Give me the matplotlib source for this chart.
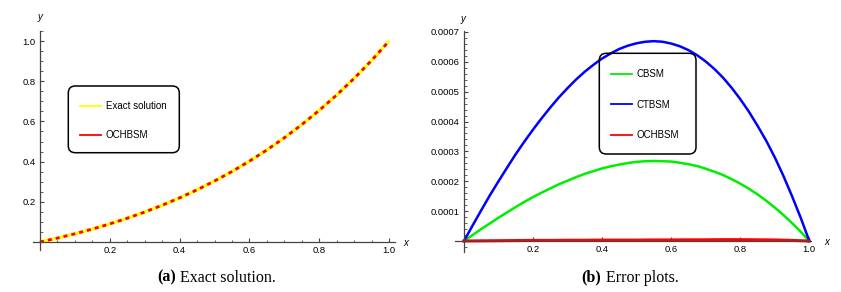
import matplotlib
matplotlib.use("Agg")
import matplotlib.pyplot as plt
from matplotlib.lines import Line2D
from matplotlib.patches import FancyBboxPatch
from matplotlib.transforms import IdentityTransform
from matplotlib.ticker import MultipleLocator, FixedLocator, FuncFormatter

# ---------------------------------------------------------------------------
# Datos
# ---------------------------------------------------------------------------
x_a = [0.00, 0.05, 0.10, 0.15, 0.20, 0.25, 0.30, 0.35, 0.40, 0.45, 0.50,
       0.55, 0.60, 0.65, 0.70, 0.75, 0.80, 0.85, 0.90, 0.95, 1.00]

# (a) solucion exacta y OCHBSM (coinciden)
exacta = [0.0, 0.0193, 0.0407, 0.0641, 0.0899, 0.1181, 0.1490, 0.1827,
          0.2195, 0.2596, 0.3033, 0.3507, 0.4022, 0.4580, 0.5185, 0.5841,
          0.6550, 0.7316, 0.8143, 0.9037, 1.0]
ochbsm_sol = exacta[:]

# (b) errores, x cada 0.025
x_b = [i * 0.025 for i in range(41)]
err_cbsm = [0.0, 0.20e-4, 0.40e-4, 0.59e-4, 0.78e-4, 0.96e-4, 1.14e-4, 1.31e-4,
            1.47e-4, 1.62e-4, 1.76e-4, 1.90e-4, 2.02e-4, 2.14e-4, 2.25e-4,
            2.34e-4, 2.43e-4, 2.50e-4, 2.56e-4, 2.61e-4, 2.65e-4, 2.67e-4,
            2.68e-4, 2.67e-4, 2.66e-4, 2.62e-4, 2.57e-4, 2.51e-4, 2.42e-4,
            2.32e-4, 2.21e-4, 2.07e-4, 1.92e-4, 1.75e-4, 1.56e-4, 1.35e-4,
            1.12e-4, 0.87e-4, 0.60e-4, 0.31e-4, 0.0]
err_ctbsm = [0.0, 0.52e-4, 1.03e-4, 1.53e-4, 2.00e-4, 2.46e-4, 2.91e-4, 3.33e-4,
             3.73e-4, 4.11e-4, 4.47e-4, 4.81e-4, 5.12e-4, 5.41e-4, 5.67e-4,
             5.90e-4, 6.11e-4, 6.28e-4, 6.43e-4, 6.54e-4, 6.62e-4, 6.67e-4,
             6.69e-4, 6.67e-4, 6.61e-4, 6.52e-4, 6.39e-4, 6.22e-4, 6.01e-4,
             5.76e-4, 5.47e-4, 5.13e-4, 4.75e-4, 4.33e-4, 3.86e-4, 3.36e-4,
             2.80e-4, 2.18e-4, 1.50e-4, 0.78e-4, 0.0]
err_ochbsm = [0.0, 0.3e-6, 0.5e-6, 0.8e-6, 1.0e-6, 1.3e-6, 1.5e-6, 1.8e-6,
              2.0e-6, 2.0e-6, 2.0e-6, 2.3e-6, 2.5e-6, 2.5e-6, 2.5e-6, 2.8e-6,
              3.0e-6, 3.0e-6, 3.0e-6, 3.0e-6, 3.0e-6, 3.3e-6, 3.5e-6, 3.5e-6,
              3.5e-6, 3.8e-6, 4.0e-6, 4.0e-6, 4.0e-6, 4.3e-6, 4.5e-6, 4.5e-6,
              4.5e-6, 4.3e-6, 4.0e-6, 3.8e-6, 3.5e-6, 2.8e-6, 2.0e-6, 1.0e-6,
              0.0]

x_ticks = [0.2, 0.4, 0.6, 0.8, 1.0]
y_ticks_a = [0.2, 0.4, 0.6, 0.8, 1.0]
y_ticks_b = [0.0001, 0.0002, 0.0003, 0.0004, 0.0005, 0.0006, 0.0007]

plt.rcParams['font.family'] = ['Liberation Sans', 'DejaVu Sans']

W, H = 841, 292
fig = plt.figure(figsize=(W / 100, H / 100), dpi=100)

EJE = '#444444'


def px_ax(x0, y0, x1, y1):
    """Ejes a partir de pixeles (izq, arriba, der, abajo)."""
    return fig.add_axes([x0 / W, 1 - y1 / H, (x1 - x0) / W, (y1 - y0) / H])


def marco(x0, y0, x1, y1):
    """Recuadro redondeado de la leyenda, en pixeles."""
    p = FancyBboxPatch((x0, H - y1), x1 - x0, y1 - y0,
                       boxstyle='round,pad=0,rounding_size=7',
                       transform=IdentityTransform(), facecolor='none',
                       edgecolor='black', linewidth=1.1)
    fig.add_artist(p)


def estilo_mathematica(ax, ymaj, ymin, fmt):
    for s in ['top', 'right']:
        ax.spines[s].set_visible(False)
    for s in ['left', 'bottom']:
        ax.spines[s].set_position(('data', 0))
        ax.spines[s].set_color(EJE)
        ax.spines[s].set_linewidth(0.9)
    ax.xaxis.set_major_locator(FixedLocator(x_ticks))
    ax.xaxis.set_minor_locator(MultipleLocator(0.05))
    ax.yaxis.set_major_locator(FixedLocator(ymaj))
    ax.yaxis.set_minor_locator(MultipleLocator(ymin))
    ax.xaxis.set_major_formatter(FuncFormatter(lambda v, p: f"{v:.1f}"))
    ax.yaxis.set_major_formatter(FuncFormatter(fmt))
    ax.tick_params(which='major', direction='in', length=3.2, width=0.8,
                   color=EJE, labelsize=6.8, pad=3)
    ax.tick_params(which='minor', direction='in', length=1.8, width=0.6,
                   color=EJE)
    ax.set_facecolor('none')


def leyenda(ax, handles, labels, x_px, y_px, spacing):
    ax.legend(handles, labels, loc='upper left',
              bbox_to_anchor=(x_px / W, 1 - y_px / H),
              bbox_transform=fig.transFigure, borderaxespad=0,
              fontsize=7, labelspacing=spacing, handlelength=2.15,
              handletextpad=0.5, borderpad=0, frameon=False)


# ---------------------------------------------------------------------------
# (a) Exact solution
# ---------------------------------------------------------------------------
ax1 = px_ax(33, 31, 395, 250)
ax1.plot(x_a, exacta, color='#FFFF00', lw=2.4, solid_capstyle='butt')
ax1.plot(x_a, ochbsm_sol, color='#FF0000', lw=2.0, dashes=(1.45, 1.45))
ax1.set_xlim(-0.02, 1.017)
ax1.set_ylim(-0.04, 1.05)
estilo_mathematica(ax1, y_ticks_a, 0.05, lambda v, p: f"{v:.1f}")
fig.text(406 / W, 1 - 243 / H, 'x', style='italic', fontsize=7,
         ha='center', va='center')
fig.text(40 / W, 1 - 17 / H, 'y', style='italic', fontsize=7,
         ha='center', va='center')

h1 = [Line2D([], [], color='#FFFF00', lw=1.3),
      Line2D([], [], color='#FF0000', lw=1.3)]
leyenda(ax1, h1, ['Exact solution', 'OCHBSM'], 80, 101, 1.95)
marco(68.3, 86, 179.3, 152.7)

# ---------------------------------------------------------------------------
# (b) Error plots
# ---------------------------------------------------------------------------
ax2 = px_ax(455, 30.7, 810.7, 252)
ax2.plot(x_b, err_cbsm, color='#00EE00', lw=1.8)
ax2.plot(x_b, err_ctbsm, color='#0000FF', lw=1.8)
ax2.plot(x_b, err_ochbsm, color='#FF0000', lw=2.2)
ax2.set_xlim(-0.026, 1.004)
ax2.set_ylim(-0.0000368, 0.000704)
estilo_mathematica(ax2, y_ticks_b, 0.00002, lambda v, p: f"{v:.4f}")
fig.text(827 / W, 1 - 242 / H, 'x', style='italic', fontsize=7,
         ha='center', va='center')
fig.text(462.7 / W, 1 - 19 / H, 'y', style='italic', fontsize=7,
         ha='center', va='center')

h2 = [Line2D([], [], color='#00EE00', lw=1.3),
      Line2D([], [], color='#0000FF', lw=1.3),
      Line2D([], [], color='#FF0000', lw=1.3)]
leyenda(ax2, h2, ['CBSM', 'CTBSM', 'OCHBSM'], 610.7, 69, 2.12)
marco(599.3, 53.3, 696, 154)

# ---------------------------------------------------------------------------
# Pies de figura
# ---------------------------------------------------------------------------
yc = 1 - 277.5 / H
fig.text(176 / W, yc, '(a)', family='Liberation Serif', weight='bold',
         fontsize=11.5, ha='right', va='center')
fig.text(180 / W, yc, 'Exact solution.', family='Liberation Serif',
         fontsize=11.5, ha='left', va='center')
fig.text(601.5 / W, yc, '(b)', family='Liberation Serif', weight='bold',
         fontsize=11.5, ha='right', va='center')
fig.text(605.5 / W, yc, 'Error plots.', family='Liberation Serif',
         fontsize=11.5, ha='left', va='center')

fig.savefig('out.png', dpi=100)
